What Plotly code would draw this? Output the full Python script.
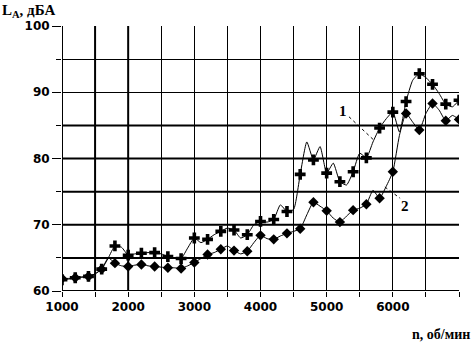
import plotly.graph_objects as go

rpm = list(range(1000, 7001, 100))
la_1 = [61.7, 61.8, 62.0, 62.1, 62.2, 62.6, 63.3, 65.0, 66.8, 66.6,
        65.4, 65.6, 65.7, 65.8, 65.8, 65.6, 65.2, 65.0, 64.9, 66.5,
        68.0, 67.3, 67.8, 68.5, 69.0, 69.5, 69.2, 68.0, 68.5, 70.0,
        70.5, 70.4, 70.8, 73.0, 72.0, 72.3, 77.6, 82.5, 79.8, 81.8,
        77.8, 79.3, 76.5, 76.0, 78.0, 80.8, 80.1, 82.5, 84.6, 86.0,
        87.0, 84.0, 88.6, 91.8, 92.8, 92.2, 91.2, 89.8, 88.2, 87.8,
        88.8]
la_2 = [61.9, 61.9, 62.0, 62.1, 62.2, 62.6, 63.3, 65.0, 64.2, 63.8,
        63.7, 63.9, 64.0, 63.8, 63.7, 63.6, 63.5, 63.5, 63.4, 63.8,
        64.3, 64.9, 65.5, 65.8, 66.3, 66.8, 66.1, 65.6, 66.0, 67.3,
        68.4, 67.9, 67.8, 68.3, 68.7, 69.0, 69.4, 71.5, 73.4, 72.8,
        72.1, 71.0, 70.4, 71.3, 72.2, 72.5, 73.1, 75.2, 74.0, 75.8,
        78.0, 83.5, 86.8, 85.5, 84.3, 86.8, 88.3, 87.3, 85.7, 86.5,
        85.9]
x_ticks = [1000, 2000, 3000, 4000, 5000, 6000, 7000]
y_ticks = [60, 70, 80, 90, 100]

FONT = "DejaVu Sans"
SERIF = "Liberation Serif"

fig = go.Figure()
fig.add_trace(go.Scatter(x=rpm, y=la_1, mode="lines",
                         line=dict(color="black", width=1, shape="spline", smoothing=0.5),
                         showlegend=False, hoverinfo="skip"))
fig.add_trace(go.Scatter(x=rpm, y=la_2, mode="lines",
                         line=dict(color="black", width=1, shape="spline", smoothing=0.5),
                         showlegend=False, hoverinfo="skip"))
fig.add_trace(go.Scatter(x=rpm[::2], y=la_1[::2], mode="markers",
                         marker=dict(symbol="cross", size=9, color="black"),
                         showlegend=False))
fig.add_trace(go.Scatter(x=rpm[::2], y=la_2[::2], mode="markers",
                         marker=dict(symbol="diamond", size=8, color="black"),
                         showlegend=False))

shapes = []
for xv in [1000, 1500, 2000]:
    shapes.append(dict(type="line", xref="x", yref="paper", x0=xv, x1=xv, y0=0, y1=1,
                       line=dict(color="black", width=2), layer="below"))
for yv in [60, 65, 70, 75, 80, 85]:
    shapes.append(dict(type="line", xref="paper", yref="y", x0=0, x1=1, y0=yv, y1=yv,
                       line=dict(color="black", width=2), layer="below"))
# leader lines
shapes.append(dict(type="line", xref="x", yref="y", x0=5337, y0=86.3, x1=5700, y1=82.9,
                   line=dict(color="black", width=1, dash="dot")))
shapes.append(dict(type="line", xref="x", yref="y", x0=5880, y0=75.7, x1=6110, y1=74.0,
                   line=dict(color="black", width=1, dash="dot")))

fig.update_layout(
    width=473, height=342,
    margin=dict(l=62, r=14, t=26, b=51),
    paper_bgcolor="white", plot_bgcolor="white",
    shapes=shapes,
    xaxis=dict(range=[1000, 7000], tickvals=x_ticks, ticktext=[str(v) for v in x_ticks],
               automargin=False,
               showgrid=True, gridcolor="black", gridwidth=1,
               ticks="outside", ticklen=5, tickcolor="black", tickwidth=1,
               minor=dict(tickvals=list(range(1500, 7000, 1000)), showgrid=True,
                          gridcolor="black", gridwidth=1, ticks="outside", ticklen=5,
                          tickcolor="black"),
               tickfont=dict(family=FONT, size=12, color="black", weight="bold"),
               zeroline=False, showline=False),
    yaxis=dict(range=[60, 100], tickvals=y_ticks, ticktext=[str(v) for v in y_ticks],
               automargin=False,
               showgrid=True, gridcolor="black", gridwidth=1,
               ticks="outside", ticklen=9, tickcolor="black", tickwidth=1,
               minor=dict(tickvals=[65, 75, 85, 95], showgrid=True, gridcolor="black",
                          gridwidth=1, ticks="outside", ticklen=5, tickcolor="black"),
               tickfont=dict(family=FONT, size=12, color="black", weight="bold"),
               zeroline=False, showline=False),
    annotations=[
        dict(text="<b>L<sub>A</sub>, дБА</b>", xref="paper", yref="paper",
             x=-62/397, y=1 + 26/265, xanchor="left", yanchor="top", showarrow=False,
             font=dict(family=SERIF, size=15, color="black")),
        dict(text="<b>n, об/мин</b>", xref="paper", yref="paper",
             x=1 + 13/397, y=-43/265, xanchor="right", yanchor="middle", showarrow=False,
             font=dict(family=SERIF, size=14, color="black")),
        dict(text="<b>1</b>", xref="x", yref="y", x=5247, y=87.2, showarrow=False,
             font=dict(family=SERIF, size=15, color="black")),
        dict(text="<b>2</b>", xref="x", yref="y", x=6185, y=72.8, showarrow=False,
             font=dict(family=SERIF, size=15, color="black")),
    ],
)

fig.write_html("out.html", config={"displayModeBar": False},
               post_script="document.body.style.margin='0';document.body.style.overflow='hidden';")
